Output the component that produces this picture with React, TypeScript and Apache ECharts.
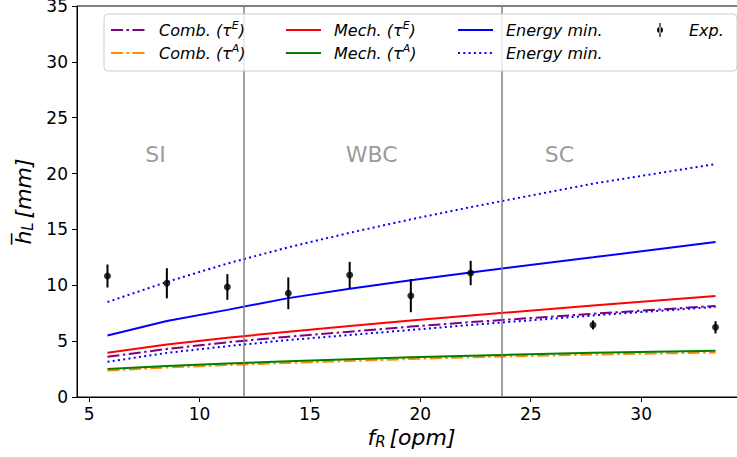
import React, { useEffect, useRef } from "react";
import * as echarts from "echarts";

// ---- data ----
const fR = [5.83, 8.52, 11.26, 14.02, 16.8, 19.57, 22.28, 27.82, 33.37];
const combE = [3.6, 4.3, 4.9, 5.4, 5.85, 6.3, 6.7, 7.45, 8.15];
const combA = [2.37, 2.64, 2.86, 3.05, 3.22, 3.4, 3.56, 3.8, 3.98];
const mechE = [3.97, 4.7, 5.3, 5.85, 6.35, 6.85, 7.3, 8.2, 9.04];
const mechA = [2.5, 2.78, 3.0, 3.2, 3.38, 3.55, 3.7, 3.95, 4.13];
const energy = [5.5, 6.8, 7.8, 8.85, 9.7, 10.45, 11.15, 12.5, 13.88];
const energyDotHi = [8.5, 10.3, 11.95, 13.4, 14.7, 15.9, 17.0, 19.1, 20.85];
const energyDotLo = [3.15, 3.95, 4.55, 5.1, 5.55, 6.0, 6.45, 7.3, 8.07];
const expY = [10.83, 10.18, 9.85, 9.28, 10.92, 9.07, 11.1, 6.45, 6.24];
const expErr = [1.03, 1.35, 1.15, 1.42, 1.18, 1.48, 1.09, 0.4, 0.55];

const regimeBounds = [12.0, 23.7];
const regimeLabels = ["SI", "WBC", "SC"];
const regimeLabelX = [8.0, 17.8, 26.3];
const regimeLabelY = 21.75;

const xTicks = [5, 10, 15, 20, 25, 30];
const xMin = 4.45;
const xMax = 34.75;

const legendText: Record<string, string> = {
  "Comb. (τE)": "{i|Comb. (τ}{s|E}{i|)}",
  "Comb. (τA)": "{i|Comb. (τ}{s|A}{i|)}",
  "Mech. (τE)": "{i|Mech. (τ}{s|E}{i|)}",
  "Mech. (τA)": "{i|Mech. (τ}{s|A}{i|)}",
  "Energy min.": "{i|Energy min.}",
  "Energy min. (2)": "{i|Energy min.}",
  "Exp.": "{i|Exp.}",
};

const FONT = "DejaVu Sans";
const DASHDOT = [12, 3.5, 2.5, 3.5];
const DOT = [2, 3.3];

const pairs = (ys: number[]) => fR.map((x, i) => [x, ys[i]]);

const lineSeries = (name: string, ys: number[], color: string, type: any, z = 2) => ({
  type: "line",
  name,
  data: pairs(ys),
  symbol: "none",
  z,
  lineStyle: { color, width: 2, type, cap: "butt" },
  itemStyle: { color },
});

const legendBase = (left: number, data: any[], itemWidth = 35, pad = 8, hideSymbol = true) => ({
  orient: "vertical",
  left,
  top: 20,
  padding: 0,
  itemGap: 3,
  itemWidth,
  itemHeight: 14,
  selectedMode: false,
  z: 10,
  data,
  itemStyle: hideSymbol ? { opacity: 0, borderWidth: 0 } : undefined,
  formatter: (n: string) => legendText[n] || n,
  textStyle: {
    fontFamily: FONT,
    fontSize: 16,
    color: "#000",
    lineHeight: 20,
    padding: [0, 0, 0, pad],
    rich: {
      i: { fontFamily: FONT, fontSize: 16, fontStyle: "italic", color: "#000", lineHeight: 20 },
      s: { fontFamily: FONT, fontSize: 11, fontStyle: "italic", color: "#000", padding: [0, 0, 9, 0] },
    },
  },
});

const EXP_ICON = "path://M2.4,0 L3.6,0 L3.6,14 L2.4,14 Z M0,7 A3,3 0 1 0 6,7 A3,3 0 1 0 0,7 Z";

export default function App() {
  const ref = useRef<HTMLDivElement>(null);
  useEffect(() => {
    if (!ref.current) return;
    const chart = echarts.init(ref.current, null, { renderer: "svg" });
    chart.setOption({
      animation: false,
      textStyle: { fontFamily: FONT },
      grid: {
        left: 77,
        top: 6,
        right: 24,
        bottom: 60,
        show: true,
        borderColor: "#000",
        borderWidth: 1,
        outerBoundsMode: "none",
        containLabel: false,
      },
      graphic: [
        {
          type: "rect",
          z: 9,
          shape: { x: 104, y: 14, width: 633, height: 57, r: 4 },
          style: { fill: "rgba(255,255,255,0.8)", stroke: "#cccccc", lineWidth: 1 },
        },
      ],
      legend: [
        legendBase(110, ["Comb. (τE)", "Comb. (τA)"]),
        legendBase(285, ["Mech. (τE)", "Mech. (τA)"]),
        legendBase(457, ["Energy min.", "Energy min. (2)"]),
        legendBase(657, [{ name: "Exp.", icon: EXP_ICON }], 6, 21, false),
      ],
      xAxis: {
        type: "value",
        min: xMin,
        max: xMax,
        name: "{i|f}{s|R} {i|[opm]}",
        nameLocation: "middle",
        nameGap: 27,
        nameTextStyle: {
          rich: {
            i: { fontFamily: FONT, fontSize: 22, fontStyle: "italic", color: "#000" },
            s: { fontFamily: FONT, fontSize: 15, fontStyle: "italic", color: "#000", padding: [9, 0, 0, 0] },
          },
        },
        axisLine: { show: true, lineStyle: { color: "#000", width: 1 } },
        axisTick: { show: true, length: 5, lineStyle: { color: "#000" }, customValues: xTicks },
        axisLabel: { color: "#000", fontSize: 17, fontFamily: FONT, margin: 8, customValues: xTicks },
        splitLine: { show: false },
      },
      yAxis: {
        type: "value",
        min: 0,
        max: 35,
        interval: 5,
        name: "{i|h\u0305}{s|L} {i|[mm]}",
        nameLocation: "middle",
        nameRotate: 90,
        nameGap: 38,
        nameTextStyle: {
          rich: {
            i: { fontFamily: FONT, fontSize: 22, fontStyle: "italic", color: "#000" },
            s: { fontFamily: FONT, fontSize: 15, fontStyle: "italic", color: "#000", padding: [9, 0, 0, 0] },
          },
        },
        axisLine: { show: true, lineStyle: { color: "#000", width: 1 } },
        axisTick: { show: true, length: 5, lineStyle: { color: "#000" } },
        axisLabel: { color: "#000", fontSize: 17, fontFamily: FONT, margin: 9 },
        splitLine: { show: false },
      },
      series: [
        {
          type: "line",
          name: "regimes",
          data: [],
          markLine: {
            silent: true,
            symbol: ["none", "none"],
            label: { show: false },
            lineStyle: { color: "#808080", width: 1.5, type: "solid" },
            data: regimeBounds.map((x) => ({ xAxis: x })),
          },
        },
        {
          type: "scatter",
          name: "regimeLabels",
          data: regimeLabelX.map((x) => [x, regimeLabelY]),
          symbolSize: 1,
          itemStyle: { color: "rgba(0,0,0,0)" },
          label: {
            show: true,
            position: "inside",
            formatter: (p: any) => regimeLabels[p.dataIndex],
            fontFamily: FONT,
            fontSize: 22,
            color: "#808080",
          },
        },
        lineSeries("Comb. (τE)", combE, "#800080", DASHDOT, 3),
        lineSeries("Comb. (τA)", combA, "#FF8C00", DASHDOT, 2),
        lineSeries("Mech. (τE)", mechE, "#FF0000", "solid", 3),
        lineSeries("Mech. (τA)", mechA, "#008000", "solid", 3),
        lineSeries("Energy min.", energy, "#0000FF", "solid", 3),
        lineSeries("Energy min. (2)", energyDotHi, "#0000FF", DOT, 3),
        lineSeries("energyLo", energyDotLo, "#0000FF", DOT, 3),
        {
          type: "custom",
          name: "expErr",
          z: 4,
          data: fR.map((x, i) => [x, expY[i] - expErr[i], expY[i] + expErr[i]]),
          encode: { x: 0, y: [1, 2] },
          renderItem: (params: any, api: any) => {
            const x = api.value(0);
            const p1 = api.coord([x, api.value(1)]);
            const p2 = api.coord([x, api.value(2)]);
            return {
              type: "line",
              shape: { x1: p1[0], y1: p1[1], x2: p2[0], y2: p2[1] },
              style: { stroke: "#000", lineWidth: 2 },
            };
          },
        },
        {
          type: "scatter",
          name: "Exp.",
          z: 5,
          data: pairs(expY),
          symbol: "circle",
          symbolSize: 7,
          itemStyle: { color: "#000" },
        },
      ],
    });
    return () => chart.dispose();
  }, []);
  return (
    <div style={{ position: "absolute", left: 0, top: 0, width: 737, height: 457, overflow: "hidden", background: "#fff" }}>
      <div ref={ref} style={{ width: 770, height: 457 }} />
    </div>
  );
}
